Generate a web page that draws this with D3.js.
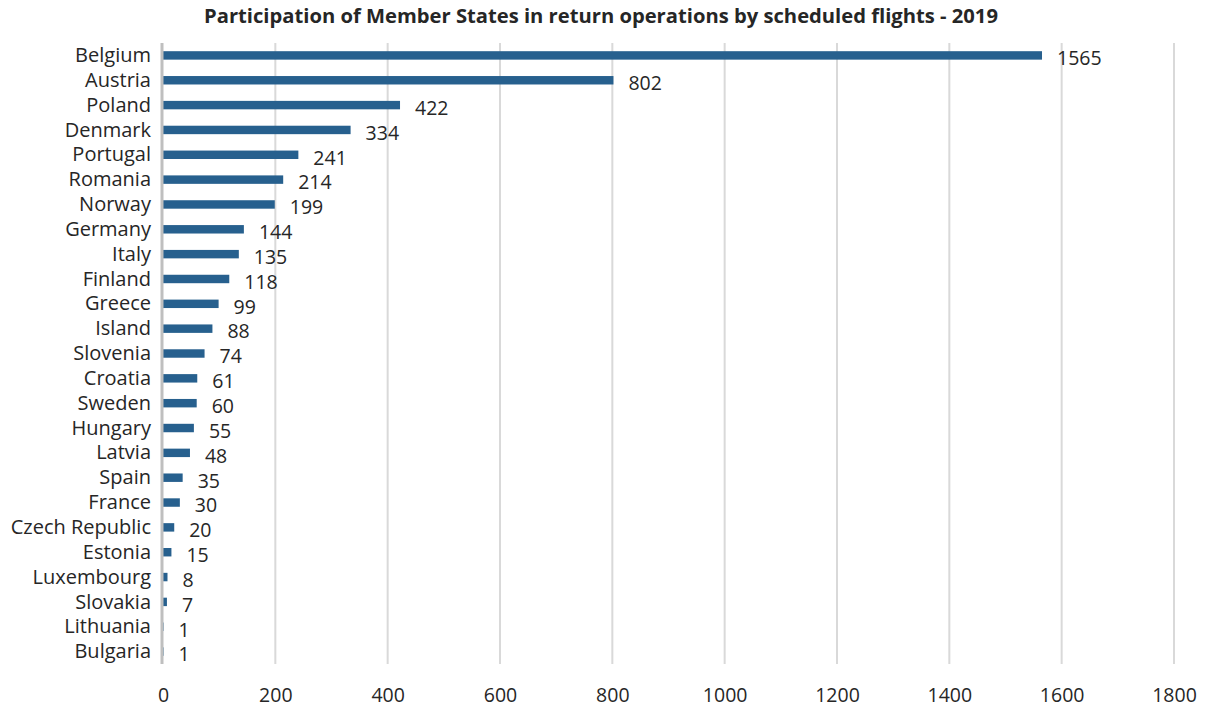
<!DOCTYPE html>
<html>
<head>
<meta charset="utf-8">
<script src="https://cdn.jsdelivr.net/npm/d3@7/dist/d3.min.js"></script>
<style>
  body { margin: 0; background: #fff; }
  text { font-family: "Open Sans", "Noto Sans", sans-serif; fill: #262626; }
</style>
</head>
<body>
<svg id="chart" width="1205" height="708"></svg>
<script>
// data
const countries = ['Belgium', 'Austria', 'Poland', 'Denmark', 'Portugal', 'Romania', 'Norway',
  'Germany', 'Italy', 'Finland', 'Greece', 'Island', 'Slovenia', 'Croatia', 'Sweden', 'Hungary',
  'Latvia', 'Spain', 'France', 'Czech Republic', 'Estonia', 'Luxembourg', 'Slovakia',
  'Lithuania', 'Bulgaria'];
const flights = [1565, 802, 422, 334, 241, 214, 199, 144, 135, 118, 99, 88, 74, 61, 60, 55,
  48, 35, 30, 20, 15, 8, 7, 1, 1];
const xTicks = [0, 200, 400, 600, 800, 1000, 1200, 1400, 1600, 1800];
const title = 'Participation of Member States in return operations by scheduled flights - 2019';

const svg = d3.select('#chart');
const margin = {left: 163, right: 31, top: 43, bottom: 44};
const W = 1205, H = 708;

const x = d3.scaleLinear().domain([0, 1800]).range([margin.left, W - margin.right]);
const y = d3.scaleBand().domain(countries)
  .range([margin.top, H - margin.bottom])
  .paddingInner(0.66).paddingOuter(0.33);

// gridlines
svg.append('g').selectAll('line')
  .data(xTicks.filter(d => d > 0))
  .join('line')
  .attr('x1', d => x(d)).attr('x2', d => x(d))
  .attr('y1', margin.top).attr('y2', H - margin.bottom)
  .attr('stroke', '#d9d9d9').attr('stroke-width', 2);

// x tick labels
const xAxis = svg.append('g')
  .attr('transform', 'translate(0,' + (H - margin.bottom) + ')')
  .call(d3.axisBottom(x).tickValues(xTicks).tickFormat(d3.format('d')).tickSize(0).tickPadding(24));
xAxis.select('.domain').remove();
xAxis.selectAll('text')
  .style('font-family', '"Open Sans", "Noto Sans", sans-serif')
  .style('font-size', '19.5px').attr('fill', '#262626');

// bars
const data = countries.map((c, i) => ({country: c, value: flights[i]}));
svg.append('g').selectAll('rect')
  .data(data)
  .join('rect')
  .attr('x', x(0))
  .attr('y', d => y(d.country))
  .attr('width', d => x(d.value) - x(0))
  .attr('height', y.bandwidth())
  .attr('fill', '#27608e');

// vertical axis line
svg.append('line')
  .attr('x1', x(0) - 1).attr('x2', x(0) - 1)
  .attr('y1', margin.top).attr('y2', H - margin.bottom)
  .attr('stroke', '#bfbfbf').attr('stroke-width', 3);

// category labels
svg.append('g').selectAll('text')
  .data(data)
  .join('text')
  .attr('x', x(0) - 12)
  .attr('y', d => y(d.country) + y.bandwidth() / 2)
  .attr('dy', '0.33em')
  .attr('text-anchor', 'end')
  .style('font-size', '20px')
  .text(d => d.country);

// value labels
svg.append('g').selectAll('text')
  .data(data)
  .join('text')
  .attr('x', d => x(d.value) + 15)
  .attr('y', d => y(d.country) + y.bandwidth() / 2 + 3)
  .attr('dy', '0.35em')
  .style('font-size', '19.5px')
  .text(d => d.value);

// title
svg.append('text')
  .attr('x', 601).attr('y', 23)
  .attr('text-anchor', 'middle')
  .style('font-size', '20.2px')
  .style('font-weight', 'bold')
  .text(title);
</script>
</body>
</html>
